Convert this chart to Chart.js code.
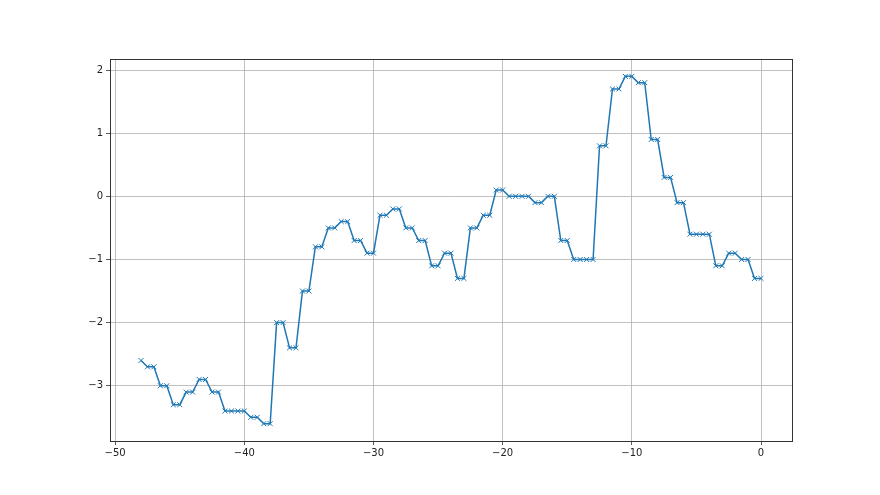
<!DOCTYPE html>
<html>
<head>
<meta charset="utf-8">
<script src="https://cdn.jsdelivr.net/npm/chart.js@4.4.0/dist/chart.umd.min.js"></script>
<style>
  html, body { margin: 0; padding: 0; background: #fff; }
  #wrap { width: 880px; height: 495px; }
</style>
</head>
<body>
<div id="wrap"><canvas id="canvas" width="880" height="495"></canvas></div>
<script>
// データ (x: -48 〜 0, 0.5刻み)
var xs = [
  -48,
  -47.5, -47, -46.5, -46, -45.5, -45, -44.5, -44, -43.5, -43, -42.5, -42,
  -41.5, -41, -40.5, -40, -39.5, -39, -38.5, -38, -37.5, -37, -36.5, -36,
  -35.5, -35, -34.5, -34, -33.5, -33, -32.5, -32, -31.5, -31, -30.5, -30,
  -29.5, -29, -28.5, -28, -27.5, -27, -26.5, -26, -25.5, -25, -24.5, -24,
  -23.5, -23, -22.5, -22, -21.5, -21, -20.5, -20, -19.5, -19, -18.5, -18,
  -17.5, -17, -16.5, -16, -15.5, -15, -14.5, -14, -13.5, -13, -12.5, -12,
  -11.5, -11, -10.5, -10, -9.5, -9, -8.5, -8, -7.5, -7, -6.5, -6,
  -5.5, -5, -4.5, -4, -3.5, -3, -2.5, -2, -1.5, -1, -0.5, 0
];
var ys = [
  -2.6,
  -2.7, -2.7, -3.0, -3.0, -3.3, -3.3, -3.1, -3.1, -2.9, -2.9, -3.1, -3.1,
  -3.4, -3.4, -3.4, -3.4, -3.5, -3.5, -3.6, -3.6, -2.0, -2.0, -2.4, -2.4,
  -1.5, -1.5, -0.8, -0.8, -0.5, -0.5, -0.4, -0.4, -0.7, -0.7, -0.9, -0.9,
  -0.3, -0.3, -0.2, -0.2, -0.5, -0.5, -0.7, -0.7, -1.1, -1.1, -0.9, -0.9,
  -1.3, -1.3, -0.5, -0.5, -0.3, -0.3, 0.1, 0.1, 0.0, 0.0, 0.0, 0.0,
  -0.1, -0.1, 0.0, 0.0, -0.7, -0.7, -1.0, -1.0, -1.0, -1.0, 0.8, 0.8,
  1.7, 1.7, 1.9, 1.9, 1.8, 1.8, 0.9, 0.9, 0.3, 0.3, -0.1, -0.1,
  -0.6, -0.6, -0.6, -0.6, -1.1, -1.1, -0.9, -0.9, -1.0, -1.0, -1.3, -1.3
];
var xTicks = [-50, -40, -30, -20, -10, 0];
var yTicks = [-3, -2, -1, 0, 1, 2];

var points = xs.map(function(x, i) { return {x: x, y: ys[i]}; });

function fmt(v) {
  return v < 0 ? '\u2212' + Math.abs(v) : String(v);
}

// 枠線 (上・右も描く)
var framePlugin = {
  id: 'frame',
  afterDraw: function(chart) {
    var a = chart.chartArea;
    var ctx = chart.ctx;
    ctx.save();
    ctx.strokeStyle = '#333';
    ctx.lineWidth = 1;
    ctx.strokeRect(Math.round(a.left) + 0.5, Math.round(a.top) + 0.5,
      Math.round(a.right - a.left), Math.round(a.bottom - a.top));
    ctx.restore();
  }
};

var ctx = document.getElementById('canvas').getContext('2d');
new Chart(ctx, {
  type: 'scatter',
  data: {
    datasets: [{
      data: points,
      showLine: true,
      borderColor: '#1f77b4',
      backgroundColor: '#1f77b4',
      borderWidth: 1.5,
      pointStyle: 'crossRot',
      pointRadius: 3.5,
      pointBorderWidth: 1,
      pointBorderColor: '#1f77b4',
      tension: 0,
      fill: false
    }]
  },
  options: {
    responsive: false,
    animation: false,
    layout: { padding: { left: 70, top: 59, right: 88, bottom: 24 } },
    plugins: { legend: { display: false }, tooltip: { enabled: false } },
    scales: {
      x: {
        type: 'linear',
        min: -50.4,
        max: 2.4,
        afterBuildTicks: function(axis) { axis.ticks = xTicks.map(function(v) { return {value: v}; }); },
        afterFit: function(axis) { axis.height = 30; },
        grid: { color: '#b0b0b0', lineWidth: 0.8, tickColor: '#333', tickLength: 4, drawOnChartArea: true },
        border: { display: true, color: '#333', width: 1 },
        ticks: {
          color: '#222', padding: 2, maxRotation: 0, autoSkip: false,
          font: { family: 'DejaVu Sans', size: 10 },
          callback: function(v) { return fmt(v); }
        }
      },
      y: {
        type: 'linear',
        min: -3.875,
        max: 2.175,
        afterBuildTicks: function(axis) { axis.ticks = yTicks.map(function(v) { return {value: v}; }); },
        afterFit: function(axis) { axis.width = 40; },
        grid: { color: '#b0b0b0', lineWidth: 0.8, tickColor: '#333', tickLength: 4 },
        border: { display: true, color: '#333', width: 1 },
        ticks: {
          color: '#222', padding: 3, autoSkip: false,
          font: { family: 'DejaVu Sans', size: 10 },
          callback: function(v) { return fmt(v); }
        }
      }
    }
  },
  plugins: [framePlugin]
});
</script>
</body>
</html>
